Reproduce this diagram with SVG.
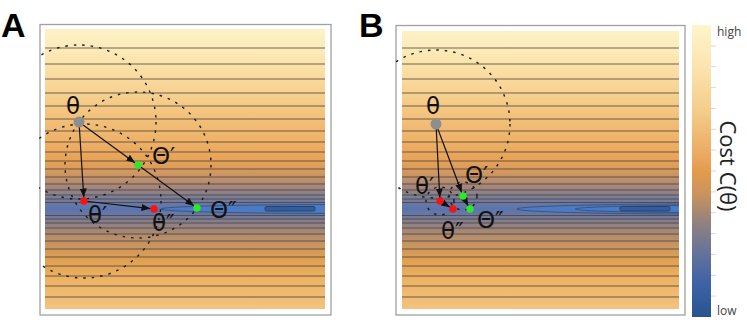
<svg xmlns="http://www.w3.org/2000/svg" width="747" height="328" viewBox="0 0 747 328">
<defs>
<linearGradient id="bg" gradientUnits="userSpaceOnUse" x1="0" y1="29" x2="0" y2="309">
<stop offset="0" stop-color="#fdf1c6"/>
<stop offset="0.068" stop-color="#fcecbb"/>
<stop offset="0.125" stop-color="#fbe2aa"/>
<stop offset="0.225" stop-color="#f7d291"/>
<stop offset="0.32" stop-color="#f2c07a"/>
<stop offset="0.4" stop-color="#eeb168"/>
<stop offset="0.47" stop-color="#e6a257"/>
<stop offset="0.5" stop-color="#d99b5c"/>
<stop offset="0.532" stop-color="#c2916a"/>
<stop offset="0.568" stop-color="#a08580"/>
<stop offset="0.596" stop-color="#807f93"/>
<stop offset="0.621" stop-color="#6a79a4"/>
<stop offset="0.643" stop-color="#5b74ae"/>
<stop offset="0.664" stop-color="#6a78a2"/>
<stop offset="0.689" stop-color="#877f8c"/>
<stop offset="0.725" stop-color="#a88874"/>
<stop offset="0.771" stop-color="#c89560"/>
<stop offset="0.825" stop-color="#e0a052"/>
<stop offset="0.89" stop-color="#ecb263"/>
<stop offset="1" stop-color="#f3c380"/>
</linearGradient>
<linearGradient id="cbar" x1="0" y1="0" x2="0" y2="1">
<stop offset="0" stop-color="#fef5cc"/>
<stop offset="0.15" stop-color="#fbe3ad"/>
<stop offset="0.3" stop-color="#f4cb88"/>
<stop offset="0.45" stop-color="#eaa860"/>
<stop offset="0.5" stop-color="#e39b4c"/>
<stop offset="0.58" stop-color="#c9935e"/>
<stop offset="0.68" stop-color="#8f8180"/>
<stop offset="0.78" stop-color="#66739a"/>
<stop offset="0.88" stop-color="#4063a5"/>
<stop offset="1" stop-color="#285390"/>
</linearGradient>
<clipPath id="clipA"><rect x="45" y="29" width="280" height="280"/></clipPath>
<clipPath id="clipB"><rect x="402" y="31" width="277" height="278"/></clipPath>
<clipPath id="frameA"><rect x="39" y="24" width="292" height="291"/></clipPath>
<clipPath id="frameB"><rect x="395" y="25" width="290" height="290"/></clipPath>
<marker id="ah" markerUnits="userSpaceOnUse" markerWidth="9" markerHeight="7" refX="9" refY="3.5" orient="auto">
<path d="M0,0 L9,3.5 L0,7 z" fill="#111"/>
</marker>
<style>
.frame{fill:#fff;stroke:#a0a0a0;stroke-width:1.3}
.contour{fill:none;stroke:#4d4238;stroke-opacity:0.8;stroke-width:1}
.valley{fill:#4b7bc4;stroke:#3b4f78;stroke-width:0.9}
.core{fill:#335e9e;stroke:#27426e;stroke-width:1}
.circ{fill:none;stroke:#1a1a1a;stroke-width:1.4;stroke-dasharray:2.5 6}
.arrow{fill:none;stroke:#111;stroke-width:1.2;marker-end:url(#ah)}
.lbl{font-family:"DejaVu Sans",sans-serif;font-size:23px;fill:#111}
.big{font-family:"Liberation Sans",Arial,sans-serif;font-weight:bold;font-size:34px;fill:#000}
.cb{font-family:"Open Sans","DejaVu Sans",sans-serif;font-size:12px;fill:#444}
.gray{fill:#8e8e8e}
.red{fill:#f51414}
.green{fill:#2ae82a}
</style>
</defs>
<rect width="747" height="328" fill="#fff"/>

<text class="big" x="1" y="37">A</text>
<text class="big" x="359" y="37">B</text>

<g id="panelA">
<rect class="frame" x="40" y="24.5" width="291" height="290.5"/>
<g clip-path="url(#clipA)">
<rect x="45" y="29" width="280" height="280" fill="url(#bg)"/>
<path class="contour" d="M45 48H325M45 64H325M45 79H325M45 93H325M45 106H325M45 119H325M45 131H325M45 142H325M45 152H325M45 161H325M45 169H325M45 177H325M45 184H325M45 190H325M45 195H325M45 199H325M45 202.5H325M45 215.5H325M45 219H325M45 223H325M45 228H325M45 234H325M45 241H325M45 249H325M45 257H325M45 266H325M45 276H325M45 286H325M45 297H325"/>
<ellipse class="valley" cx="340" cy="209" rx="179" ry="4.5"/>
<rect class="core" x="265" y="206.5" width="50" height="4.5" rx="1.5"/>
</g>
</g>

<g id="panelB">
<rect class="frame" x="396" y="25.5" width="289" height="289.5"/>
<g clip-path="url(#clipB)">
<rect x="402" y="31" width="277" height="278" fill="url(#bg)"/>
<path class="contour" d="M402 48H679M402 64H679M402 79H679M402 93H679M402 106H679M402 119H679M402 131H679M402 142H679M402 152H679M402 161H679M402 169H679M402 177H679M402 184H679M402 190H679M402 195H679M402 199H679M402 202.5H679M402 215.5H679M402 219H679M402 223H679M402 228H679M402 234H679M402 241H679M402 249H679M402 257H679M402 266H679M402 276H679M402 286H679M402 297H679"/>
<ellipse class="valley" cx="700" cy="209" rx="183" ry="5"/>
<ellipse class="valley" cx="700" cy="209" rx="125" ry="3.5"/>
<rect class="core" x="620" y="206.5" width="50" height="4.5" rx="1.5"/>
</g>
</g>

<g id="circlesA" clip-path="url(#frameA)">
<circle class="circ" cx="79" cy="122" r="77"/>
<circle class="circ" cx="84" cy="201" r="77"/>
<circle class="circ" cx="138" cy="165" r="73"/>
</g>
<g id="circlesB" clip-path="url(#frameB)">
<circle class="circ" cx="436" cy="124" r="74"/>
<circle class="circ" cx="440" cy="201" r="14"/>
<circle class="circ" cx="463" cy="196" r="14"/>
</g>

<g id="connectors">
<line class="arrow" x1="79" y1="122" x2="135.2" y2="162.9"/>
<line class="arrow" x1="138" y1="165" x2="194.2" y2="205.9"/>
<line class="arrow" x1="79" y1="122" x2="83.8" y2="197.5"/>
<line class="arrow" x1="84" y1="201" x2="150.5" y2="208.6"/>
<line class="arrow" x1="436" y1="124" x2="439.8" y2="197.5"/>
<line class="arrow" x1="440" y1="201" x2="450" y2="207.2"/>
<line class="arrow" x1="436" y1="124" x2="461.8" y2="192.7"/>
<line class="arrow" x1="463" y1="196" x2="468.3" y2="205.9"/>
</g>

<g id="A-theta"><circle class="gray" cx="79" cy="122" r="5.5"/><text class="lbl" x="66" y="114">θ</text></g>
<g id="A-Theta1"><circle class="green" cx="138" cy="165" r="3.7"/><text class="lbl" x="152" y="164">Θ′</text></g>
<g id="A-Theta2"><circle class="green" cx="197" cy="208" r="3.7"/><text class="lbl" x="210" y="218">Θ″</text></g>
<g id="A-theta1"><circle class="red" cx="84" cy="201" r="3.7"/><text class="lbl" x="88" y="223">θ′</text></g>
<g id="A-theta2"><circle class="red" cx="154" cy="209" r="3.7"/><text class="lbl" x="152" y="231">θ″</text></g>

<g id="B-theta"><circle class="gray" cx="436" cy="124" r="5.5"/><text class="lbl" x="426" y="114">θ</text></g>
<g id="B-theta1"><circle class="red" cx="440" cy="201" r="3.7"/><text class="lbl" x="415" y="194">θ′</text></g>
<g id="B-theta2"><circle class="red" cx="453" cy="209" r="3.7"/><text class="lbl" x="441" y="239">θ″</text></g>
<g id="B-Theta1"><circle class="green" cx="463" cy="196" r="3.7"/><text class="lbl" x="465" y="183">Θ′</text></g>
<g id="B-Theta2"><circle class="green" cx="470" cy="209" r="3.7"/><text class="lbl" x="477" y="228">Θ″</text></g>

<g id="colorbar">
<rect x="692" y="25" width="19" height="292" fill="url(#cbar)"/>
<path d="M711 45.9h5M711 66.7h5M711 87.6h5M711 108.4h5M711 129.3h5M711 150.1h5M711 171h5M711 191.9h5M711 212.7h5M711 233.6h5M711 254.4h5M711 275.3h5M711 296.1h5" stroke="#d8d8d8" stroke-width="1"/>
<text class="cb" x="717" y="36">high</text>
<text class="cb" x="717" y="315">low</text>
<text transform="translate(720,166) rotate(90)" text-anchor="middle" font-family="Open Sans, DejaVu Sans, sans-serif" font-size="22" fill="#222">Cost C(θ)</text>
</g>
</svg>
